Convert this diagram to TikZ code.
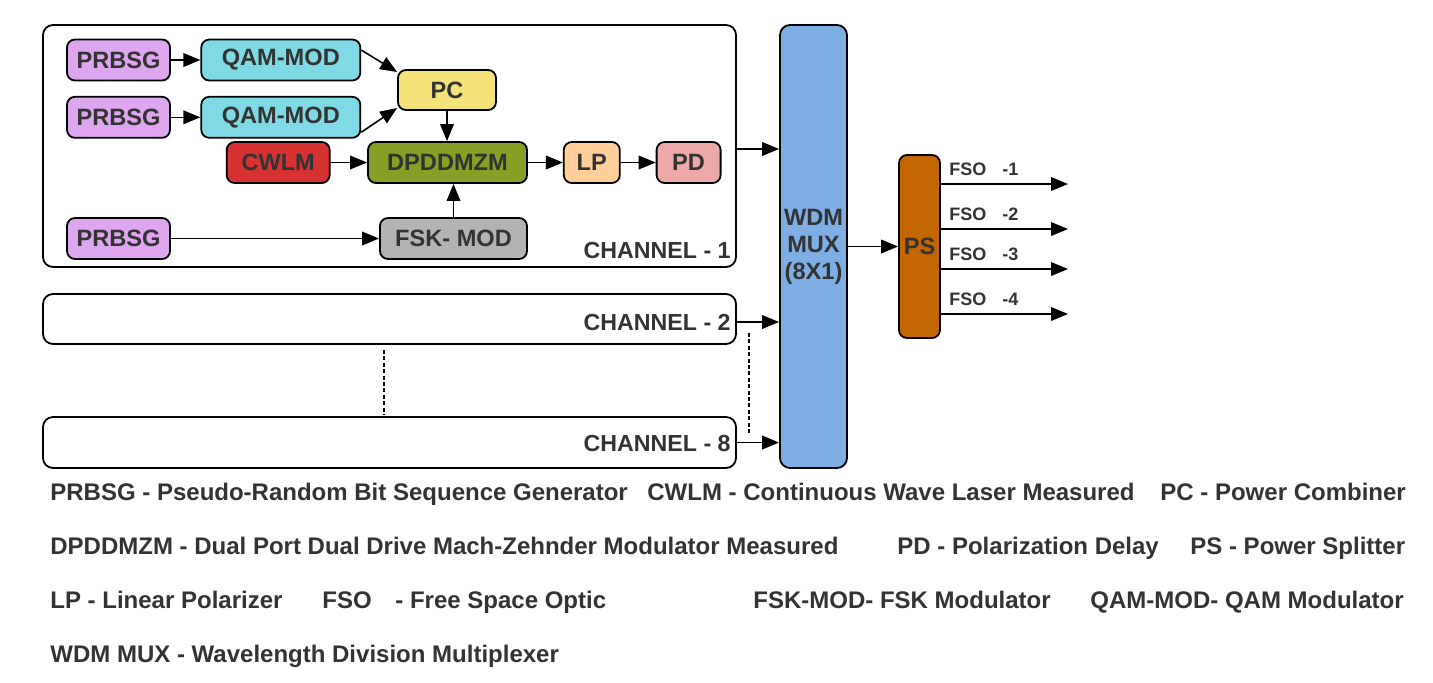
\documentclass[tikz,border=0pt]{standalone}
\usepackage{fontspec}
\setmainfont{Liberation Sans}
\definecolor{txtgray}{RGB}{51,51,51}
\definecolor{prbsgpurple}{RGB}{221,166,238}
\definecolor{qamcyan}{RGB}{128,218,230}
\definecolor{pcyellow}{RGB}{245,227,122}
\definecolor{cwlmred}{RGB}{214,50,50}
\definecolor{dpdgreen}{RGB}{133,160,36}
\definecolor{lppeach}{RGB}{255,206,153}
\definecolor{pdpink}{RGB}{237,168,168}
\definecolor{fskgray}{RGB}{179,179,179}
\definecolor{wdmblue}{RGB}{126,174,227}
\definecolor{psorange}{RGB}{196,102,0}
\usepackage{tikz}
\usetikzlibrary{shapes, arrows.meta, positioning, calc}

\begin{document}
\begin{tikzpicture}[x=0.5pt, y=-0.5pt,
  blk/.style={draw, line width=0.9pt, rounded corners=4pt, inner sep=0pt, minimum height=20.5pt,
    text=txtgray, font=\fontsize{11.8}{13.5}\selectfont\bfseries},
  chbox/.style={draw, line width=0.9pt, rounded corners=5pt, inner sep=0pt},
  arr/.style={-{Triangle[length=8.5pt, width=6.8pt]}, line width=0.8pt},
  chlbl/.style={anchor=base east, inner sep=0pt, text=txtgray, font=\fontsize{11.6}{13.5}\selectfont\bfseries},
  fsolbl/.style={anchor=base west, inner sep=0pt, text=txtgray, font=\fontsize{9}{11}\selectfont\bfseries},
  legend/.style={anchor=base west, inner sep=0pt, text=txtgray, font=\fontsize{12}{14}\selectfont\bfseries}]
  \useasboundingbox (0,0) rectangle (1433,682);

  % channel frames
  \node[chbox, minimum width=346.5pt, minimum height=121pt] (ch1) at (389.5,146) {};
  \node[chbox, minimum width=346.5pt, minimum height=25pt] (ch2) at (389.5,319) {};
  \node[chbox, minimum width=346.5pt, minimum height=25.5pt] (ch8) at (389.5,442.5) {};
  \node[chlbl] (ch1lbl) at (731,258) {CHANNEL - 1};
  \node[chlbl] (ch2lbl) at (731,330) {CHANNEL - 2};
  \node[chlbl] (ch8lbl) at (731,451) {CHANNEL - 8};

  % channel 1 transmitter
  \node[blk, fill=prbsgpurple, minimum width=51.5pt] (prbsgA) at (118.5,60) {PRBSG};
  \node[blk, fill=qamcyan, minimum width=79.5pt, right=14.75pt of prbsgA] (qamA) {QAM-MOD};
  \node[blk, fill=prbsgpurple, minimum width=51.5pt, below=7.25pt of prbsgA] (prbsgB) {PRBSG};
  \node[blk, fill=qamcyan, minimum width=79.5pt, right=14.75pt of prbsgB] (qamB) {QAM-MOD};
  \node[blk, fill=pcyellow, minimum width=49pt, minimum height=20pt] (pc) at (447,90) {PC};
  \node[blk, fill=dpdgreen, minimum width=79.5pt] (dpd) at (447.5,162.5) {DPDDMZM};
  \node[blk, fill=cwlmred, minimum width=51.5pt, left=18.25pt of dpd] (cwlm) {CWLM};
  \node[blk, fill=lppeach, minimum width=28pt, right=17.5pt of dpd] (lp) {LP};
  \node[blk, fill=pdpink, minimum width=32pt, right=17.5pt of lp] (pd) {PD};
  \node[blk, fill=fskgray, minimum width=73.5pt] (fsk) at (453.5,238.5) {FSK- MOD};
  \node[blk, fill=prbsgpurple, minimum width=51.5pt] (prbsgC) at (118.5,238.5) {PRBSG};

  \draw[arr] (prbsgA) -- (qamA);
  \draw[arr] (prbsgB) -- (qamB);
  \draw[arr] ([yshift=5pt]qamA.east) -- ([yshift=9pt]pc.west);
  \draw[arr] ([yshift=-7.5pt]qamB.east) -- ([yshift=-9pt]pc.west);
  \draw[arr] (pc) -- (pc |- dpd.north);
  \draw[arr] (cwlm) -- (dpd);
  \draw[arr] (dpd) -- (lp);
  \draw[arr] (lp) -- (pd);
  \draw[arr] (prbsgC) -- (fsk);
  \draw[arr] (fsk) -- (fsk |- dpd.south);

  % multiplexer and splitter
  \node[blk, fill=wdmblue, minimum width=33.5pt, minimum height=221.5pt, rounded corners=5pt, align=center] (wdm) at (813.5,246.5) {WDM\\MUX\\(8X1)};
  \node[blk, fill=psorange, minimum width=20.5pt, minimum height=91.5pt] (ps) at (919.5,246.5) {PS};

  \draw[arr] ([yshift=-1.5pt]ch1.east) -- ([yshift=-1.5pt]ch1.east -| wdm.west);
  \draw[arr] ([yshift=-1.5pt]ch2.east) -- ([yshift=-1.5pt]ch2.east -| wdm.west);
  \draw[arr] (ch8.east) -- (ch8.east -| wdm.west);
  \draw[arr] (wdm) -- (ps);
  \draw[dashed, line width=0.6pt, dash pattern=on 2pt off 1.2pt] (384,350) -- (384,415);
  \draw[dashed, line width=0.6pt, dash pattern=on 2pt off 1.2pt] (749,333) -- (749,433);

  \foreach \i/\y in {1/184, 2/229, 3/269, 4/314} {
    \coordinate (fso\i) at (1068,\y);
    \draw[arr] (ps.east |- fso\i) -- (fso\i);
    \node[fsolbl] (fsolbl\i) at (949,\y-9) {FSO\hspace{8pt}-\i};
  }

  % legend
  \node[legend] (lgprbsg) at (50,500) {PRBSG - Pseudo-Random Bit Sequence Generator};
  \node[legend] (lgcwlm) at (647,500) {CWLM - Continuous Wave Laser Measured};
  \node[legend] (lgpc) at (1160,500) {PC - Power Combiner};
  \node[legend] (lgdpd) at (50,554) {DPDDMZM - Dual Port Dual Drive Mach-Zehnder Modulator Measured};
  \node[legend] (lgpd) at (897,554) {PD - Polarization Delay};
  \node[legend] (lgps) at (1190,554) {PS - Power Splitter};
  \node[legend] (lglp) at (50,608) {LP - Linear Polarizer};
  \node[legend] (lgfso) at (322,608) {FSO};
  \node[legend] (lgfsotxt) at (395,608) {- Free Space Optic};
  \node[legend] (lgfsk) at (753,608) {FSK-MOD- FSK Modulator};
  \node[legend] (lgqam) at (1090,608) {QAM-MOD- QAM Modulator};
  \node[legend] (lgwdm) at (50,662) {WDM MUX - Wavelength Division Multiplexer};
\end{tikzpicture}
\end{document}
